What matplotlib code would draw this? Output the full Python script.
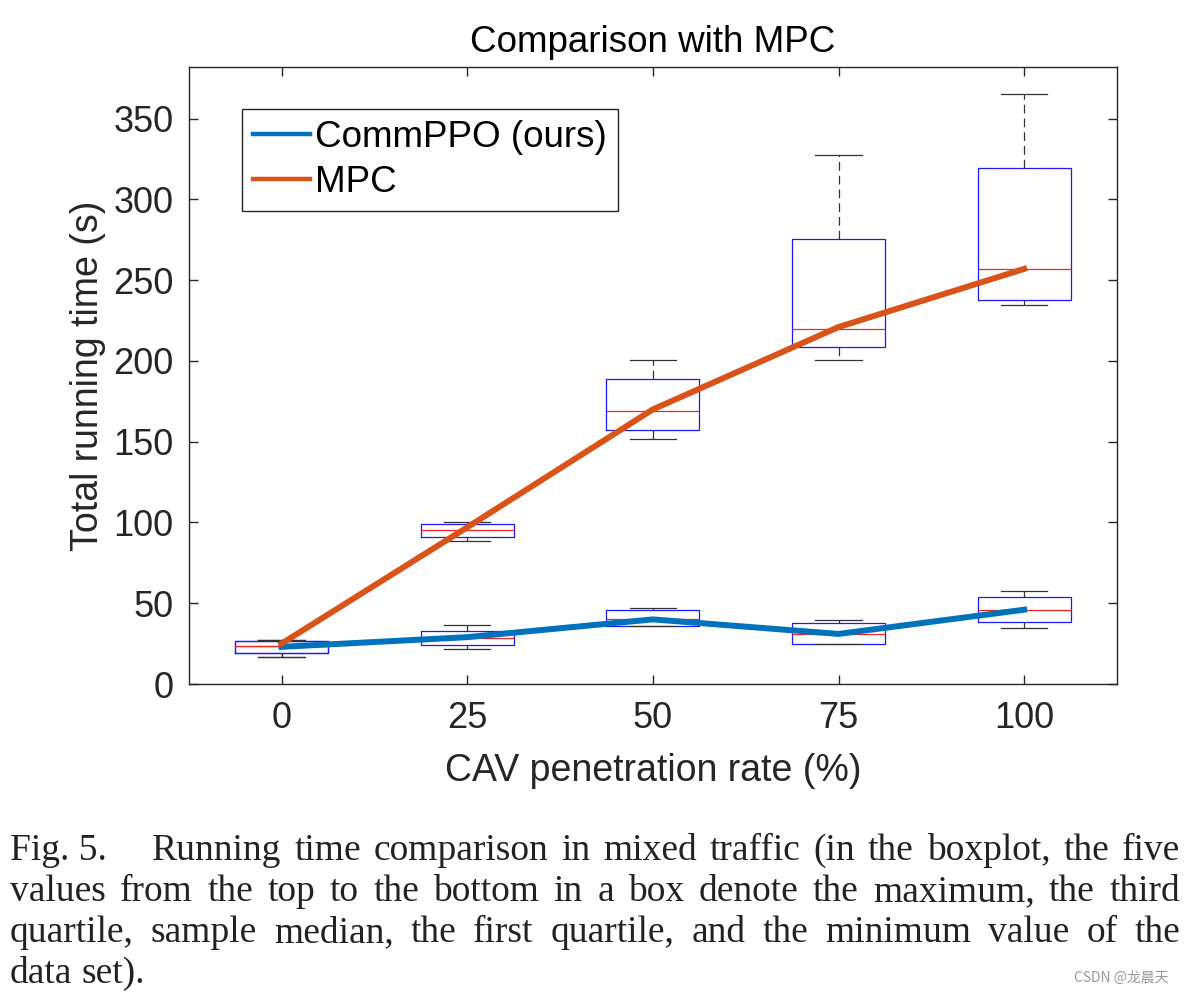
import numpy as np
import matplotlib
matplotlib.use("Agg")
import matplotlib.pyplot as plt

# CAV penetration rate (%)
rates = [0, 25, 50, 75, 100]

# line values (s)
commppo_line = [23, 29, 40, 31, 46]
mpc_line = [25, 97, 170, 221, 257]

# boxplot five-number summaries (s)
commppo_max = [27.3, 36.7, 47.0, 39.7, 57.6]
commppo_q3 = [26.6, 33.0, 45.7, 37.8, 53.7]
commppo_med = [23.5, 28.5, 40.1, 31.0, 45.7]
commppo_q1 = [19.2, 24.0, 35.7, 25.0, 38.2]
commppo_min = [16.7, 21.7, 35.6, 24.6, 34.7]

mpc_max = [27.3, 100.6, 200.3, 327.6, 365.4]
mpc_q3 = [26.6, 99.1, 189.0, 275.5, 319.5]
mpc_med = [23.5, 95.6, 169.3, 219.8, 257.1]
mpc_q1 = [19.2, 91.1, 157.0, 208.4, 237.7]
mpc_min = [16.7, 88.6, 151.6, 200.7, 234.6]

yticks = [0, 50, 100, 150, 200, 250, 300, 350]

caption = [
    "Running time comparison in mixed traffic (in the boxplot, the five",
    "values from the top to the bottom in a box denote the maximum, the third",
    "quartile, sample median, the first quartile, and the minimum value of the",
    "data set).",
]

W, H = 1185, 993
axcol = "#262626"
blue = "#0072BD"
orange = "#D95319"

plt.rcParams["font.family"] = ["Liberation Sans", "DejaVu Sans"]

fig = plt.figure(figsize=(W/100, H/100), dpi=100)
ax = fig.add_axes([188.7/W, 1-684/H, (1117-188.7)/W, (684-67)/H])


def stats(mx, q3, med, q1, mn):
    return [dict(whishi=a, q3=b, med=c, q1=d, whislo=e, fliers=[])
            for a, b, c, d, e in zip(mx, q3, med, q1, mn)]


bprops = dict(boxprops=dict(color="#1a1aff", linewidth=0.9),
              medianprops=dict(color="#ff2020", linewidth=0.9),
              whiskerprops=dict(color="#333333", linewidth=0.9, linestyle=(0, (7, 4))),
              capprops=dict(color="#333333", linewidth=0.9))

ax.bxp(stats(mpc_max, mpc_q3, mpc_med, mpc_q1, mpc_min), positions=rates,
       widths=12.5, capwidths=6.25, showfliers=False, manage_ticks=False, **bprops)
ax.bxp(stats(commppo_max, commppo_q3, commppo_med, commppo_q1, commppo_min), positions=rates,
       widths=12.5, capwidths=6.25, showfliers=False, manage_ticks=False, **bprops)

ax.plot(rates, commppo_line, color=blue, linewidth=4.3, label="CommPPO (ours)", zorder=5)
ax.plot(rates, mpc_line, color=orange, linewidth=4.3, label="MPC", zorder=6)

ax.set_xlim(-12.5, 112.5)
ax.set_ylim(0, 382)
ax.set_xticks(rates)
ax.set_xticklabels([str(r) for r in rates])
ax.set_yticks(yticks)

for s in ax.spines.values():
    s.set_color(axcol)
    s.set_linewidth(1.0)
ax.tick_params(axis="both", direction="in", length=6.5, width=1.0, color=axcol,
               labelcolor=axcol, labelsize=26, top=True, right=True)
ax.tick_params(axis="x", pad=12)
ax.tick_params(axis="y", pad=11)

ax.set_title("Comparison with MPC", fontsize=26.5, pad=11, color="black")
ax.set_xlabel("CAV penetration rate (%)", fontsize=27, color=axcol)
ax.set_ylabel("Total running time (s)", fontsize=27, color=axcol)
ax.xaxis.set_label_coords(0.5, -0.112)
ax.yaxis.set_label_coords(-0.089, 0.5)

leg = ax.legend(loc="upper left", bbox_to_anchor=(53/928.3, 1-42/617), borderaxespad=0,
                fontsize=26.5, handlelength=1.55, handletextpad=0.14, labelspacing=0.28,
                borderpad=0.3, fancybox=False, framealpha=1, edgecolor=axcol)
leg.get_frame().set_linewidth(1.0)
for ln in leg.get_lines():
    ln.set_linewidth(3.2)

# caption, justified like in the paper
cap_kw = dict(fontsize=27, family="Liberation Serif", color="#222222", va="baseline")
baselines = [860, 901, 942, 983]
fig.text(10/W, 1-baselines[0]/H, "Fig. 5.", **cap_kw)
rows = []
for i, line in enumerate(caption):
    words = line.split()
    rows.append([fig.text(0, 1-baselines[i]/H, w, **cap_kw) for w in words])
fig.canvas.draw()
r = fig.canvas.get_renderer()
for i, texts in enumerate(rows):
    x0 = 152 if i == 0 else 10
    widths = [t.get_window_extent(r).width for t in texts]
    if i < len(rows) - 1:
        gap = (1180 - x0 - sum(widths)) / (len(texts) - 1)
    else:
        gap = 9
    x = x0
    for t, w in zip(texts, widths):
        t.set_x(x/W)
        x += w + gap

fig.text(1168/W, 1-978/H, "CSDN @龙晨天", fontsize=10, color="#999999", ha="right", va="center",
         family=["Noto Sans CJK SC", "DejaVu Sans"])

fig.savefig("out.png", dpi=100)
